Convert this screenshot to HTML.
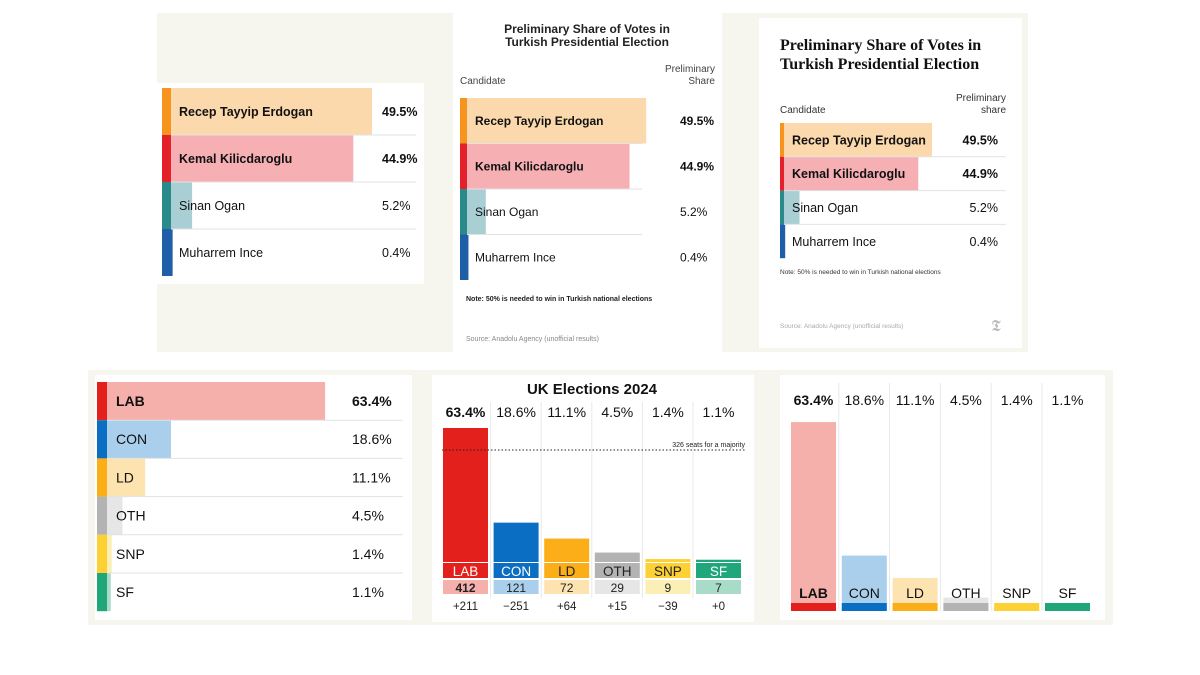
<!DOCTYPE html>
<html><head><meta charset="utf-8"><style>
html,body{margin:0;padding:0;background:#fff;width:1200px;height:675px;overflow:hidden}
svg{display:block;font-family:"Liberation Sans",sans-serif}
</style></head><body>
<svg id="s" width="1200" height="675" viewBox="0 0 1200 675"></svg>
<script>
const trNames=["Recep Tayyip Erdogan","Kemal Kilicdaroglu","Sinan Ogan","Muharrem Ince"];
const trShares=[49.5,44.9,5.2,0.4];
const trLabels=["49.5%","44.9%","5.2%","0.4%"];
const trDark=["#f7941d","#e4202a","#2a8a8a","#1f5fa8"];
const trLight=["#fcd9ac","#f6b0b4","#a9cfd4","#1f5fa8"];
const ukParties=["LAB","CON","LD","OTH","SNP","SF"];
const ukShares=[63.4,18.6,11.1,4.5,1.4,1.1];
const ukShareLabels=["63.4%","18.6%","11.1%","4.5%","1.4%","1.1%"];
const ukSeats=[412,121,72,29,9,7];
const ukChange=["+211","\u2212251","+64","+15","\u221239","+0"];
const ukMajority=326;
const ukDark=["#e4201c","#0a6fc2","#fbae17","#b3b3b3","#fdd033","#1fa67a"];
const ukLight=["#f5b0ab","#a9cfec","#fde3b0","#e6e6e6","#fcefb5","#a8dcc9"];

const S=document.getElementById('s');const NS="http://www.w3.org/2000/svg";
function mk(tag,a,txt,parent){const e=document.createElementNS(NS,tag);for(const k in a)e.setAttribute(k,a[k]);if(txt!=null)e.textContent=txt;(parent||S).appendChild(e);return e;}
function R(x,y,w,h,f,name){const e=mk('rect',{x:x,y:y,width:w,height:h,fill:f});

return e;}
function T(x,y,t,sz,opt,name){opt=opt||{};const e=mk('text',{x:x,y:y,'font-size':sz,fill:opt.fill||'#222','font-weight':opt.w||'normal','text-anchor':opt.a||'start','font-family':opt.f||'"Liberation Sans",sans-serif'},t);

return e;}
function L(x1,y1,x2,y2,c,name,dash){const e=mk('line',{x1:x1,y1:y1,x2:x2,y2:y2,stroke:c,'stroke-width':1});if(dash)e.setAttribute('stroke-dasharray',dash);

return e;}

// backgrounds
R(157,13,871,339,'#f7f6ee','top-background');
R(88,370,1025,255,'#f7f6ee','bottom-background');

// Panel A
R(157,83,267,201,'#fff','panel-a');
function hbar(x0,strip,yTop,rowH,scale,n,vals,labs,pctX,fs,pctAnchor,lineEnd,boldN,pref,font){
 for(let i=0;i<n;i++){const y=yTop+i*rowH;
  R(x0+strip,y,vals[i]*scale,rowH,trLight[i],pref+'-bar-'+i);
  R(x0,y,strip,rowH,trDark[i],pref+'-strip-'+i);
  if(i>0)L(x0+strip,y,lineEnd,y,'#e2e2e2',pref+'-row-divider');
  const b=i<boldN?'bold':'normal';
  T(x0+strip+8,y+rowH/2+fs*0.36,trNames[i],fs,{w:b,fill:'#111',f:font},pref+'-name-'+i);
  T(pctX,y+rowH/2+fs*0.36,labs[i],fs,{w:b,fill:'#111',a:pctAnchor,f:font},pref+'-value-'+i);
 }
}
hbar(162,9,88,47,4.06,4,trShares,trLabels,382,12.5,'start',416,2,'panel-a');

// Panel B
R(453,13,269,339,'#fff','panel-b');
T(587,33,'Preliminary Share of Votes in',12,{w:'bold',a:'middle'},'panel-b-title');
T(587,46,'Turkish Presidential Election',12,{w:'bold',a:'middle'},'panel-b-title-2');
T(460,84,'Candidate',10,{fill:'#444'},'panel-b-candidate-header');
T(715,72,'Preliminary',10,{fill:'#444',a:'end'},'panel-b-share-header');
T(715,84,'Share',10,{fill:'#444',a:'end'},'panel-b-share-header-2');
hbar(460,7,98,45.5,3.62,4,trShares,trLabels,680,12,'start',642,2,'panel-b');
T(466,301,'Note: 50% is needed to win in Turkish national elections',7,{w:'bold',fill:'#222'},'panel-b-note');
T(466,341,'Source: Anadolu Agency (unofficial results)',7,{fill:'#888'},'panel-b-source');

// Panel C
R(759,18,263,330,'#fff','panel-c');
T(780,50,'Preliminary Share of Votes in',16,{w:'bold',f:'"Liberation Serif",serif',fill:'#111'},'panel-c-title');
T(780,69,'Turkish Presidential Election',16,{w:'bold',f:'"Liberation Serif",serif',fill:'#111'},'panel-c-title-2');
T(780,113,'Candidate',10,{fill:'#333'},'panel-c-candidate-header');
T(1006,101,'Preliminary',10,{fill:'#333',a:'end'},'panel-c-share-header');
T(1006,113,'share',10,{fill:'#333',a:'end'},'panel-c-share-header-2');
hbar(780,4,123,33.8,2.99,4,trShares,trLabels,998,12.5,'end',1006,2,'panel-c');
T(780,274,'Note: 50% is needed to win in Turkish national elections',6.5,{fill:'#333'},'panel-c-note');
T(780,328,'Source: Anadolu Agency (unofficial results)',6.5,{fill:'#aaa'},'panel-c-source');
T(996,331,'\u{1D57F}',16,{fill:'#bbb',a:'middle',f:'"DejaVu Serif",serif'},'nyt-logo');

// Panel D (UK horizontal)
R(95,375,317,245,'#fff','panel-d');
for(let i=0;i<6;i++){const y=382+i*38.2;
 R(107,y,ukShares[i]*3.44,38.2,ukLight[i],'panel-d-bar-'+ukParties[i]);
 R(97,y,10,38.2,ukDark[i],'panel-d-strip-'+ukParties[i]);
 if(i>0)L(107,y,403,y,'#e2e2e2','panel-d-row-divider');
 const b=i==0?'bold':'normal';
 T(116,y+24,ukParties[i],14,{w:b,fill:'#111'},'panel-d-label-'+ukParties[i]);
 T(352,y+24,ukShareLabels[i],14,{w:b,fill:'#111'},'panel-d-value-'+ukParties[i]);
}

// Panel E (UK seats column)
R(432,375,322,247,'#fff','panel-e');
T(592,394,'UK Elections 2024',15,{w:'bold',a:'middle',fill:'#111'},'panel-e-title');
const eBase=562,eScale=134/412,eX0=443,eStep=50.6,eW=45;
for(let i=0;i<6;i++){const x=eX0+i*eStep,cx=x+eW/2;
 if(i>0)L(x-3,402,x-3,598,'#e8e8e8','panel-e-column-divider');
 const h=ukSeats[i]*eScale;
 R(x,eBase-h,eW,h,ukDark[i],'panel-e-bar-'+ukParties[i]);
 R(x,563,eW,15,ukDark[i],'panel-e-party-band-'+ukParties[i]);
 R(x,580,eW,14,ukLight[i],'panel-e-seat-band-'+ukParties[i]);
 const lf=(i==2||i==3||i==4)?'#222':'#fff';
 T(cx,576,ukParties[i],13.5,{a:'middle',fill:lf},'panel-e-party-'+ukParties[i]);
 T(cx,592,String(ukSeats[i]),12,{a:'middle',fill:'#222',w:i==0?'bold':'normal'},'panel-e-seats-'+ukParties[i]);
 T(cx,610,ukChange[i],11.5,{a:'middle',fill:'#222'},'panel-e-change-'+ukParties[i]);
 T(cx,417,ukShareLabels[i],14,{a:'middle',fill:'#111',w:i==0?'bold':'normal'},'panel-e-share-'+ukParties[i]);
}
const my=eBase-ukMajority*eScale-6;
L(442,my,745,my,'#222','majority-line','1.5,2');
T(745,my-3,'326 seats for a majority',7,{a:'end',fill:'#222'},'majority-label');

// Panel F (UK share columns)
R(780,375,325,245,'#fff','panel-f');
const fBase=611,fScale=2.98,fX0=791,fStep=50.8,fW=45;
for(let i=0;i<6;i++){const x=fX0+i*fStep,cx=x+fW/2;
 if(i>0)L(x-3,383,x-3,611,'#e8e8e8','panel-f-column-divider');
 const h=ukShares[i]*fScale;
 R(x,fBase-h,fW,h,ukLight[i],'panel-f-bar-'+ukParties[i]);
 R(x,603,fW,8,ukDark[i],'panel-f-strip-'+ukParties[i]);
 T(cx,598,ukParties[i],14,{a:'middle',fill:'#111',w:i==0?'bold':'normal'},'panel-f-party-'+ukParties[i]);
 T(cx,405,ukShareLabels[i],14,{a:'middle',fill:'#111',w:i==0?'bold':'normal'},'panel-f-share-'+ukParties[i]);
}
</script>
</body></html>
